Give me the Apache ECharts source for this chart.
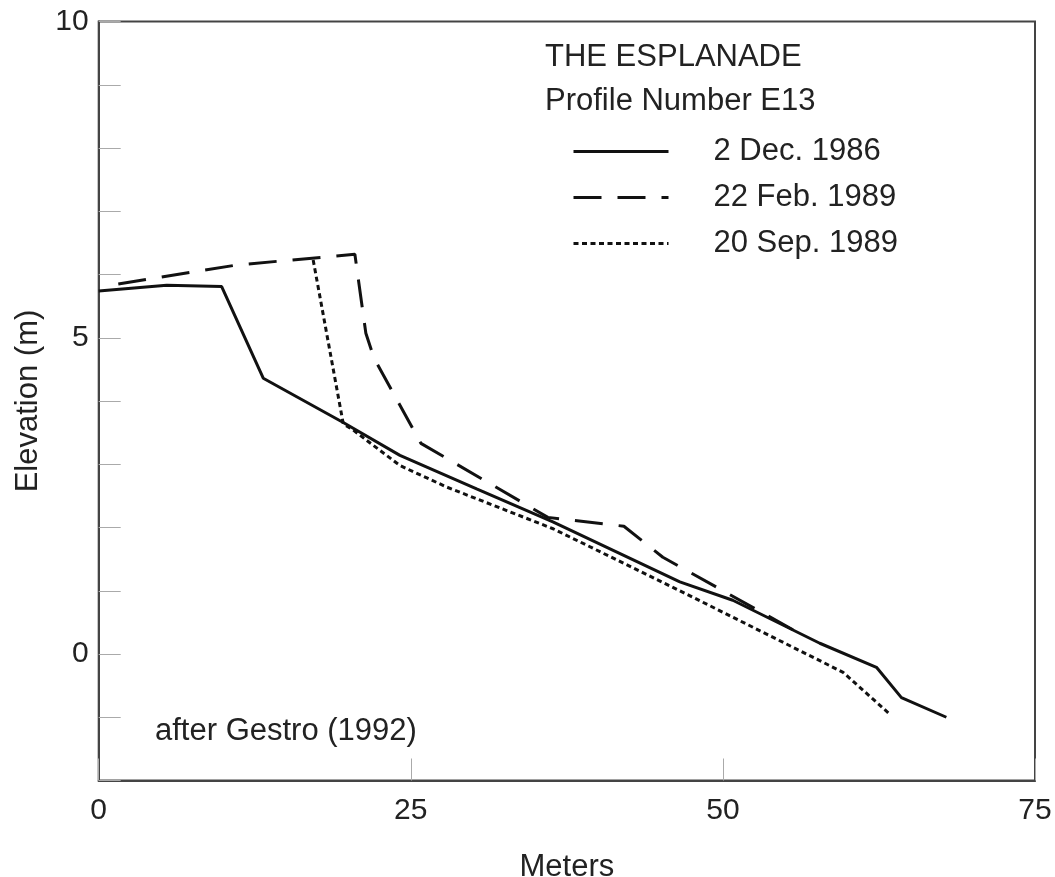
<!DOCTYPE html>
<html>
<head>
<meta charset="utf-8">
<script src="https://cdn.jsdelivr.net/npm/echarts@6/dist/echarts.min.js"></script>
<style>
html,body{margin:0;padding:0;background:#fff;}
#chart{width:1055px;height:877px;}
</style>
</head>
<body>
<div id="chart"></div>
<script>
// ---- data ----
var seriesNames = ['2 Dec. 1986', '22 Feb. 1989', '20 Sep. 1989'];

var dec1986X = [0, 5.45, 9.85, 13.18, 19.59, 24.13, 30.27, 36.38, 46.55, 50.79, 57.76, 62.30, 64.30, 67.90];
var dec1986Y = [5.74, 5.83, 5.81, 4.36, 3.66, 3.14, 2.61, 2.09, 1.14, 0.85, 0.17, -0.21, -0.69, -1.00];

var feb1989X = [1.57, 11.05, 20.52, 21.40, 22.05, 25.81, 35.98, 42.07, 45.19, 56.00];
var feb1989Y = [5.85, 6.15, 6.32, 5.07, 4.68, 3.33, 2.16, 2.02, 1.53, 0.34];

var sep1989X = [17.18, 19.59, 20.39, 24.13, 27.87, 36.40, 46.55, 59.63, 63.36];
var sep1989Y = [6.23, 3.64, 3.54, 2.98, 2.64, 1.98, 1.00, -0.29, -0.95];

var xTickValues = [0, 25, 50, 75];
var yLabelValues = [0, 5, 10];

var titleText = 'THE ESPLANADE';
var subtitleText = 'Profile Number E13';
var noteText = 'after Gestro (1992)';
var xName = 'Meters';
var yName = 'Elevation (m)';

function zip(xs, ys) {
  var out = [];
  for (var i = 0; i < xs.length; i++) out.push([xs[i], ys[i]]);
  return out;
}

var FONT = '"Liberation Sans", Arial, Helvetica, sans-serif';
var chart = echarts.init(document.getElementById('chart'), null, {renderer: 'canvas'});

var option = {
  backgroundColor: '#ffffff',
  animation: false,
  textStyle: {fontFamily: FONT},
  title: [
    {
      text: titleText,
      subtext: subtitleText,
      left: 545,
      top: 42,
      padding: 0,
      itemGap: 13,
      textStyle: {fontSize: 31, fontWeight: 'normal', color: '#222', fontFamily: FONT},
      subtextStyle: {fontSize: 31, color: '#222', fontFamily: FONT}
    },
    {
      text: noteText,
      left: 155,
      top: 716,
      padding: 0,
      textStyle: {fontSize: 31, fontWeight: 'normal', color: '#222', fontFamily: FONT}
    }
  ],
  legend: {
    orient: 'vertical',
    left: 572,
    top: 136,
    padding: 0,
    itemGap: 15,
    itemWidth: 95,
    itemHeight: 14,
    data: seriesNames,
    itemStyle: {opacity: 0},
    lineStyle: {width: 3},
    textStyle: {fontSize: 31, color: '#222', fontFamily: FONT, padding: [0, 0, 0, 40]}
  },
  grid: {
    left: 98.7,
    right: 20,
    top: 21.5,
    bottom: 96.5,
    show: true,
    borderColor: '#444',
    borderWidth: 2,
    containLabel: false,
    outerBoundsMode: 'none'
  },
  xAxis: {
    type: 'value',
    min: 0,
    max: 75,
    interval: 25,
    name: xName,
    nameLocation: 'middle',
    nameGap: 71,
    nameTextStyle: {fontSize: 31, color: '#222', fontFamily: FONT},
    axisLine: {show: true, onZero: false, lineStyle: {color: '#444', width: 2}},
    axisTick: {show: true, inside: true, length: 22, lineStyle: {color: '#aaa', width: 1}},
    axisLabel: {
      fontSize: 30, color: '#222', margin: 15, fontFamily: FONT,
      formatter: function (v) { return xTickValues.indexOf(v) >= 0 ? String(v) : ''; }
    },
    splitLine: {show: false}
  },
  yAxis: {
    type: 'value',
    min: -2,
    max: 10,
    interval: 1,
    name: yName,
    nameLocation: 'middle',
    nameGap: 54,
    nameTextStyle: {fontSize: 31, color: '#222', fontFamily: FONT},
    axisLine: {show: true, onZero: false, lineStyle: {color: '#444', width: 2}},
    axisTick: {show: true, inside: true, length: 22, lineStyle: {color: '#aaa', width: 1}},
    axisLabel: {
      fontSize: 30, color: '#222', margin: 10, fontFamily: FONT,
      formatter: function (v) { return yLabelValues.indexOf(v) >= 0 ? String(v) : ''; }
    },
    splitLine: {show: false}
  },
  series: [
    {
      name: seriesNames[0],
      type: 'line',
      symbol: 'none',
      data: zip(dec1986X, dec1986Y),
      lineStyle: {color: '#111', width: 3, type: 'solid'},
      itemStyle: {color: '#111'},
      z: 3
    },
    {
      name: seriesNames[1],
      type: 'line',
      symbol: 'none',
      data: zip(feb1989X, feb1989Y),
      lineStyle: {color: '#111', width: 3, type: [28, 16]},
      itemStyle: {color: '#111'},
      z: 2
    },
    {
      name: seriesNames[2],
      type: 'line',
      symbol: 'none',
      data: zip(sep1989X, sep1989Y),
      lineStyle: {color: '#111', width: 3, type: [5, 3.5]},
      itemStyle: {color: '#111'},
      z: 2
    }
  ]
};
chart.setOption(option);
</script>
</body>
</html>
